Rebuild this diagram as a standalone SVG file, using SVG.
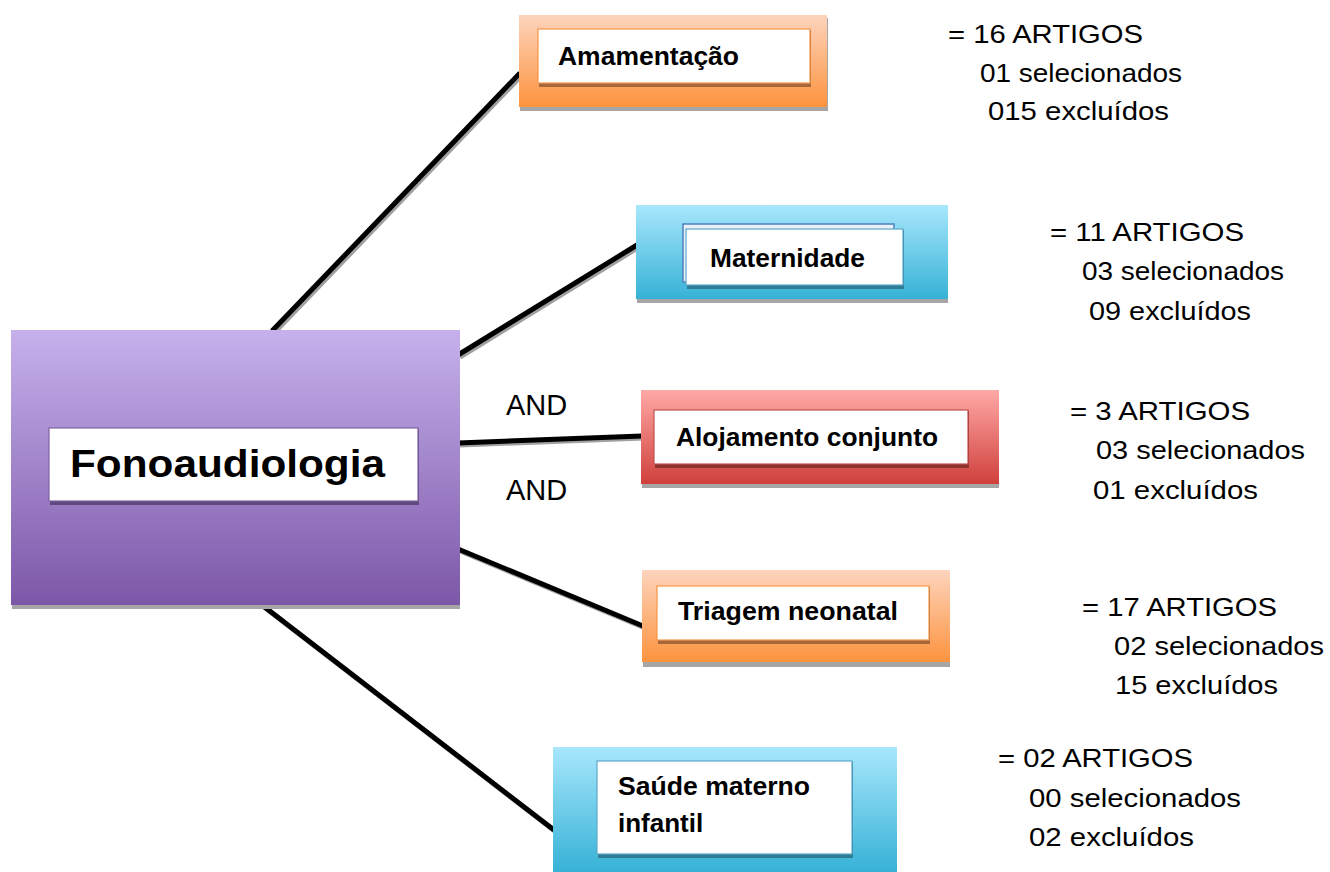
<svg xmlns="http://www.w3.org/2000/svg" width="1330" height="872" viewBox="0 0 1330 872">
<defs>
<linearGradient id="gOr" x1="0" y1="0" x2="0" y2="1"><stop offset="0" stop-color="#FDD4BD"/><stop offset="1" stop-color="#FD933E"/></linearGradient>
<linearGradient id="gBl" x1="0" y1="0" x2="0" y2="1"><stop offset="0" stop-color="#A8E7FC"/><stop offset="1" stop-color="#36B2D6"/></linearGradient>
<linearGradient id="gRd" x1="0" y1="0" x2="0" y2="1"><stop offset="0" stop-color="#FFA9A6"/><stop offset="1" stop-color="#D0403C"/></linearGradient>
<linearGradient id="gPu" x1="0" y1="0" x2="0" y2="1"><stop offset="0" stop-color="#C6B1EC"/><stop offset="1" stop-color="#7C57A8"/></linearGradient>
<style>
.sh{fill:#A6A6A6}
.box{fill:#fff;stroke-width:1.2}
.lbl{font-family:"Liberation Sans",Arial,sans-serif;font-weight:bold;fill:#000}
.txt{font-family:"Liberation Sans",Arial,sans-serif;font-size:26px;fill:#000}
.and{font-family:"Liberation Sans",Arial,sans-serif;font-size:29px;fill:#000}
.ln{stroke:#000;stroke-width:5;fill:none}
.lns{stroke:#A0A0A0;stroke-width:5;fill:none}
</style>
</defs>
<rect width="1330" height="872" fill="#fff"/>
<g id="connectors">
<g transform="translate(2,2)">
<line class="lns" x1="272" y1="331" x2="520" y2="73"/>
<line class="lns" x1="458" y1="355" x2="637" y2="245"/>
<line class="lns" x1="458" y1="443" x2="642" y2="436"/>
<line class="lns" x1="458" y1="549" x2="643" y2="626"/>
<line class="lns" x1="262" y1="605" x2="554" y2="830"/>
</g>
<line class="ln" x1="272" y1="331" x2="520" y2="73"/>
<line class="ln" x1="458" y1="355" x2="637" y2="245"/>
<line class="ln" x1="458" y1="443" x2="642" y2="436"/>
<line class="ln" x1="458" y1="549" x2="643" y2="626"/>
<line class="ln" x1="262" y1="605" x2="554" y2="830"/>
</g>
<g id="fonoaudiologia">
<rect class="sh" x="12" y="330" width="448" height="279"/>
<rect x="11" y="330" width="449" height="275" fill="url(#gPu)"/>
<rect x="50" y="429" width="369" height="76" fill="#5E4A7E"/>
<rect class="box" x="49" y="428" width="369" height="73" stroke="#8064A2"/>
<text class="lbl" x="70" y="477" font-size="39" textLength="315" lengthAdjust="spacingAndGlyphs">Fonoaudiologia</text>
</g>
<g id="amamentacao">
<rect class="sh" x="520" y="18" width="308" height="93"/>
<rect x="519" y="15" width="308" height="92" fill="url(#gOr)"/>
<rect x="539" y="30" width="272" height="57" fill="#A5673B"/>
<rect class="box" x="538" y="29" width="272" height="54" stroke="#F79646"/>
<text class="lbl" x="558" y="65" font-size="26" textLength="181" lengthAdjust="spacingAndGlyphs">Amamentação</text>
</g>
<g id="maternidade">
<rect class="sh" x="637" y="208" width="311" height="95"/>
<rect x="636" y="205" width="312" height="94" fill="url(#gBl)"/>
<rect x="683" y="224" width="211" height="58" fill="#EAF1FB" stroke="#4F81BD" stroke-width="1.5"/>
<rect x="687" y="230" width="217" height="59" fill="#2F7C96"/>
<rect class="box" x="686" y="229" width="217" height="56" stroke="#5BA7C8"/>
<text class="lbl" x="710" y="267" font-size="26" textLength="155" lengthAdjust="spacingAndGlyphs">Maternidade</text>
</g>
<g id="alojamento">
<rect class="sh" x="642" y="393" width="357" height="95"/>
<rect x="641" y="390" width="358" height="94" fill="url(#gRd)"/>
<rect x="655" y="411" width="314" height="57" fill="#8C3330"/>
<rect class="box" x="654" y="410" width="314" height="54" stroke="#C0504D"/>
<text class="lbl" x="676" y="446" font-size="26" textLength="262" lengthAdjust="spacingAndGlyphs">Alojamento conjunto</text>
</g>
<g id="triagem">
<rect class="sh" x="643" y="573" width="307" height="94"/>
<rect x="642" y="570" width="308" height="92" fill="url(#gOr)"/>
<rect x="658" y="587" width="272" height="57" fill="#A5673B"/>
<rect class="box" x="657" y="586" width="272" height="54" stroke="#F79646"/>
<text class="lbl" x="678" y="620" font-size="26" textLength="220" lengthAdjust="spacingAndGlyphs">Triagem neonatal</text>
</g>
<g id="saude">
<rect x="553" y="747" width="344" height="125" fill="url(#gBl)"/>
<rect x="598" y="762" width="255" height="96" fill="#2F7C96"/>
<rect class="box" x="597" y="761" width="255" height="93" stroke="#5BA7C8"/>
<text class="lbl" font-size="26"><tspan x="618" y="795" textLength="192" lengthAdjust="spacingAndGlyphs">Saúde materno</tspan><tspan x="618" y="832">infantil</tspan></text>
</g>
<g id="and-labels">
<text class="and" x="506" y="415">AND</text>
<text class="and" x="506" y="500">AND</text>
</g>
<g id="counts">
<text class="txt" x="948" y="43" textLength="195" lengthAdjust="spacingAndGlyphs">= 16 ARTIGOS</text>
<text class="txt" x="980" y="82" textLength="202" lengthAdjust="spacingAndGlyphs">01 selecionados</text>
<text class="txt" x="988" y="120" textLength="181" lengthAdjust="spacingAndGlyphs">015 excluídos</text>
<text class="txt" x="1050" y="241" textLength="194" lengthAdjust="spacingAndGlyphs">= 11 ARTIGOS</text>
<text class="txt" x="1082" y="280" textLength="202" lengthAdjust="spacingAndGlyphs">03 selecionados</text>
<text class="txt" x="1089" y="320" textLength="162" lengthAdjust="spacingAndGlyphs">09 excluídos</text>
<text class="txt" x="1070" y="420" textLength="180" lengthAdjust="spacingAndGlyphs">= 3 ARTIGOS</text>
<text class="txt" x="1096" y="459" textLength="209" lengthAdjust="spacingAndGlyphs">03 selecionados</text>
<text class="txt" x="1093" y="499" textLength="165" lengthAdjust="spacingAndGlyphs">01 excluídos</text>
<text class="txt" x="1082" y="616" textLength="195" lengthAdjust="spacingAndGlyphs">= 17 ARTIGOS</text>
<text class="txt" x="1114" y="655" textLength="210" lengthAdjust="spacingAndGlyphs">02 selecionados</text>
<text class="txt" x="1115" y="694" textLength="163" lengthAdjust="spacingAndGlyphs">15 excluídos</text>
<text class="txt" x="998" y="767" textLength="195" lengthAdjust="spacingAndGlyphs">= 02 ARTIGOS</text>
<text class="txt" x="1029" y="807" textLength="212" lengthAdjust="spacingAndGlyphs">00 selecionados</text>
<text class="txt" x="1029" y="846" textLength="165" lengthAdjust="spacingAndGlyphs">02 excluídos</text>
</g>
</svg>
